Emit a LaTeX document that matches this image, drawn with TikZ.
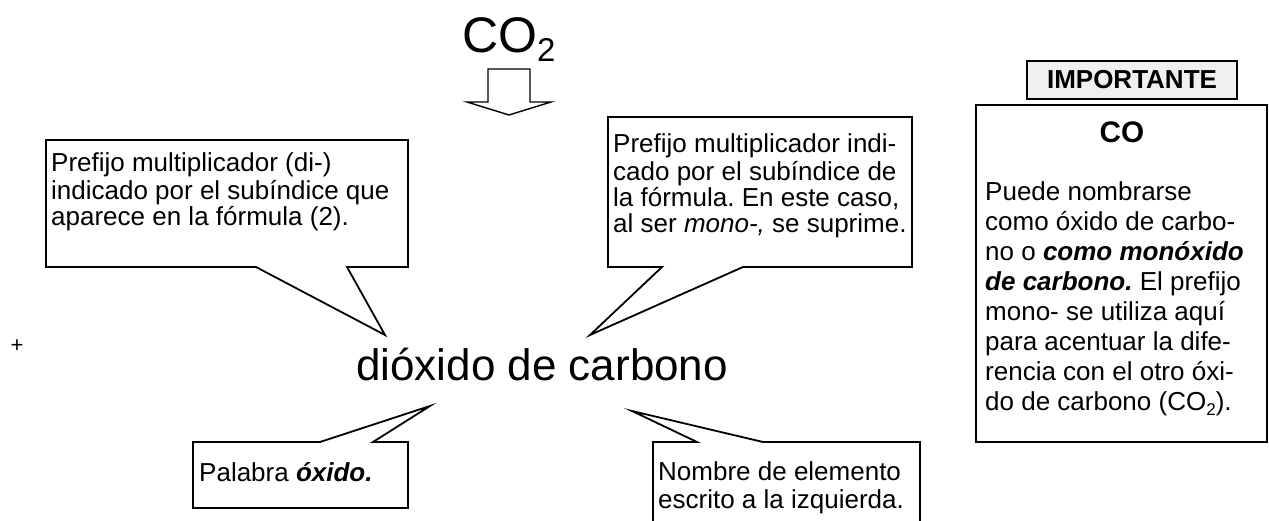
\documentclass[tikz,border=0pt]{standalone}
\usepackage{fontspec}
\setmainfont{Liberation Sans}
\usetikzlibrary{positioning}
\definecolor{tagfill}{HTML}{F0F0F0}
\frenchspacing
\tikzset{
    balloon/.style = {draw=black, line width=1.8pt, fill=white, line join=miter},
    tagbox/.style = {rectangle, draw=black, line width=1.8pt, fill=tagfill, minimum width=210pt, minimum height=38pt, inner sep=0pt, font=\fontsize{26}{30}\selectfont\bfseries},
    blockarrow/.style = {draw=black, line width=1.4pt, fill=white, line join=miter},
    note/.style = {anchor=north west, inner sep=0pt, align=left, font=\fontsize{26}{26}\selectfont},
    sidenote/.style = {anchor=north west, inner sep=0pt, align=left, font=\fontsize{26}{30}\selectfont},
    title/.style = {anchor=base west, inner sep=0pt, font=\fontsize{50}{55}\selectfont},
    compound/.style = {anchor=base west, inner sep=0pt, font=\fontsize{44}{50}\selectfont},
    header/.style = {anchor=base, inner sep=0pt, font=\fontsize{29.7}{34}\selectfont\bfseries}
}
\newcommand{\lowdigit}[3]{\raisebox{-#1}{\fontsize{#2}{#2}\selectfont #3}}

\begin{document}
\begin{tikzpicture}[x=1pt,y=-1pt]
\useasboundingbox (0,0) rectangle (1269,521);

\node[title] at (462, 53) (formula) {CO\lowdigit{9pt}{33}{2}};
\draw[blockarrow] (488,69) -- (530,69) -- (530,102) -- (551,102) -- (509,115) -- (467,102) -- (488,102) -- cycle;

\node[compound] at (356, 380) (name) {dióxido de carbono};
\node[inner sep=0pt, font=\fontsize{22}{22}\selectfont] at (17, 346) (plus) {+};

% callouts
\coordinate (ltip) at (385, 335);
\coordinate (rtip) at (590, 335);
\coordinate (bltip) at (430, 406);
\coordinate (brtip) at (632, 411);

\draw[balloon] (46,140) -- (408,140) -- (408,267) -- (347,267) -- (ltip) -- (256,267) -- (46,267) -- cycle;
\draw[balloon] (608,117) -- (912,117) -- (912,267) -- (743,267) -- (rtip) -- (662,267) -- (608,267) -- cycle;
\draw[balloon] (193,442) -- (320,442) -- (bltip) -- (373,442) -- (408,442) -- (408,508) -- (193,508) -- cycle;
\draw[balloon] (653,530) -- (653,442) -- (697,442) -- (brtip) -- (763,442) -- (920,442) -- (920,530);

\node[note] at (51, 152.8) (prefix) {\strut Prefijo multiplicador (di-)\\indicado por el subíndice que\\aparece en la fórmula (2).};
\node[note] at (613, 133.8) (mono) {\strut Prefijo multiplicador indi-\\cado por el subíndice de\\la fórmula. En este caso,\\al ser \textit{mono-,} se suprime.};
\node[note] at (199, 461.8) (word) {\strut Palabra \textbf{\textit{óxido.}}};
\node[note] at (658, 461.8) (element) {\strut Nombre de elemento\\escrito a la izquierda.};

% nota lateral
\node[tagbox] at (1132, 80) (tag) {IMPORTANTE};
\draw[balloon] (976,105) rectangle (1267,442);
\node[header] at (1122, 143) (co) {CO};
\node[sidenote] at (985, 179) (conote) {\strut Puede nombrarse\\como óxido de carbo-\\no o \textbf{\textit{como monóxido}}\\\textbf{\textit{de carbono.}} El prefijo\\mono- se utiliza aquí\\para acentuar la dife-\\rencia con el otro óxi-\\do de carbono (CO\lowdigit{5pt}{17}{2}).};

\end{tikzpicture}
\end{document}
